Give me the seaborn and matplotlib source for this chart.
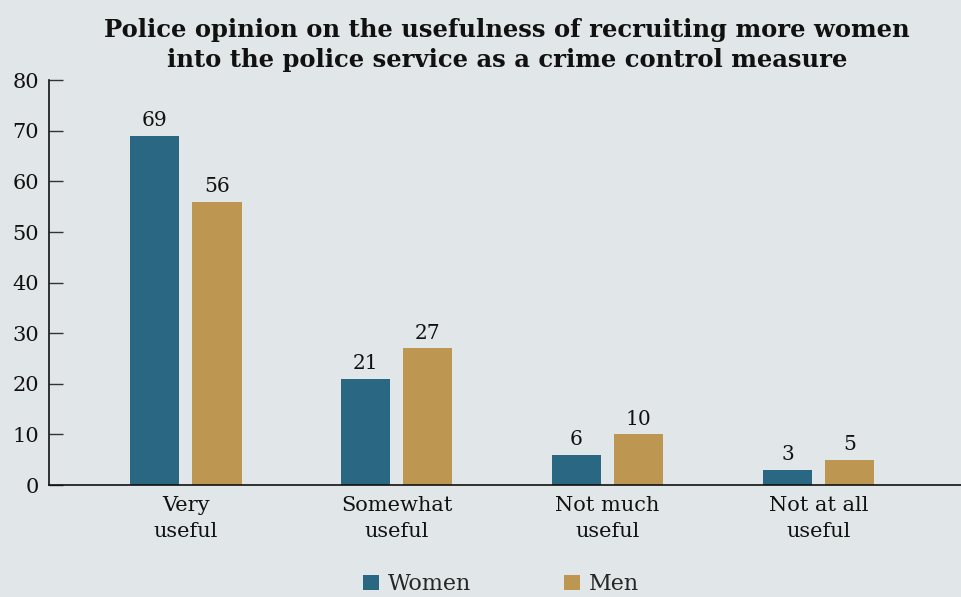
import matplotlib
matplotlib.use("Agg")
import matplotlib.pyplot as plt
from matplotlib.patches import Patch
import seaborn as sns
import pandas as pd

categories = ["Very\nuseful", "Somewhat\nuseful", "Not much\nuseful", "Not at all\nuseful"]
women = [69, 21, 6, 3]
men = [56, 27, 10, 5]
groups = ["Women", "Men"]
yticks = [0, 10, 20, 30, 40, 50, 60, 70, 80]

bg = "#e1e6e8"
palette = {"Women": "#2a6782", "Men": "#bd9752"}

df = pd.DataFrame({
    "category": categories * 2,
    "group": [groups[0]] * len(categories) + [groups[1]] * len(categories),
    "value": women + men,
})

sns.set_theme(style="white")
plt.rcParams["font.family"] = ["DejaVu Serif"]

fig = plt.figure(figsize=(9.62, 5.97), dpi=100, facecolor=bg)
ax = fig.add_axes([0.0509, 0.1876, 0.9491, 0.678])
ax.set_facecolor(bg)

sns.barplot(data=df, x="category", y="value", hue="group", order=categories,
            hue_order=groups, palette=palette, width=0.59, gap=0.21,
            saturation=1, legend=False, edgecolor="none", linewidth=0, ax=ax)

for cont in ax.containers:
    ax.bar_label(cont, fmt="%d", padding=4, fontsize=14.5, color="#111111")

ax.set_xlim(-0.649, 3.68)
ax.set_ylim(0, 80)
ax.set_yticks(yticks)
ax.set_yticklabels([str(t) for t in yticks], fontsize=15, color="#111111")
ax.tick_params(axis="y", left=True, direction="in", length=10, width=1,
               color="#333333", pad=7)
ax.tick_params(axis="x", bottom=False, length=0, pad=8, labelsize=15, labelcolor="#111111")
for lab in ax.get_xticklabels():
    lab.set_linespacing(1.45)
ax.set_xlabel("")
ax.set_ylabel("")
for side in ["top", "right"]:
    ax.spines[side].set_visible(False)
for side in ["left", "bottom"]:
    ax.spines[side].set_color("#111111")
    ax.spines[side].set_linewidth(1.2)

fig.text(0.527, 0.925, "Police opinion on the usefulness of recruiting more women\ninto the police service as a crime control measure",
         ha="center", va="center", fontsize=17.5, fontweight="bold",
         color="#111111", linespacing=1.3)

handles = [Patch(facecolor=palette[g], edgecolor="none") for g in groups]
fig.legend(handles, groups, loc="center", bbox_to_anchor=(0.521, 0.021),
           ncol=2, frameon=False, fontsize=16, handlelength=0.7, handleheight=0.7,
           handletextpad=0.4, columnspacing=4.2)

fig.savefig("out.png", dpi=100, facecolor=bg)
